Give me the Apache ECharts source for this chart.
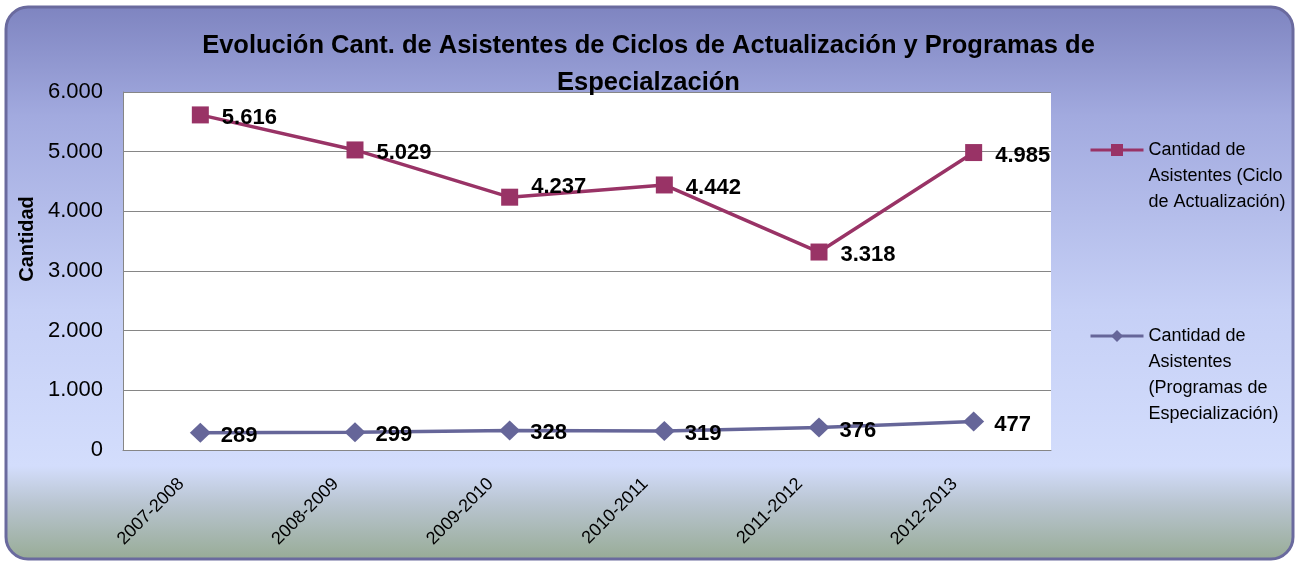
<!DOCTYPE html>
<html>
<head>
<meta charset="utf-8">
<script src="https://cdn.jsdelivr.net/npm/echarts@6/dist/echarts.min.js"></script>
<style>
html,body{margin:0;padding:0;background:#fff;}
#chart{width:1297px;height:562px;}
</style>
</head>
<body>
<div id="chart"></div>
<script>
const categories = ['2007-2008','2008-2009','2009-2010','2010-2011','2011-2012','2012-2013'];
const cicloValues = [5616, 5029, 4237, 4442, 3318, 4985];
const programasValues = [289, 299, 328, 319, 376, 477];
const yTicks = [0, 1000, 2000, 3000, 4000, 5000, 6000];
const seriesNames = ['Cantidad de\nAsistentes (Ciclo\nde Actualización)', 'Cantidad de\nAsistentes\n(Programas de\nEspecialización)'];
const titleText = 'Evolución Cant. de Asistentes de Ciclos de Actualización y Programas de\nEspecialzación';
const yAxisName = 'Cantidad';

function fmt(v){ return String(v).replace(/\B(?=(\d{3})+(?!\d))/g, '.'); }
function legendFmt(name){ const n = name.split('\n').length; return '\n'.repeat(n-1) + name; }

const chart = echarts.init(document.getElementById('chart'));
const labelFont = {fontFamily:'Liberation Sans', fontWeight:'bold', fontSize:22, color:'#000'};

const cicloData = cicloValues.map((v,i)=> i===2 ? {value:v, label:{offset:[0,-10]}} : v);

const legendCommon = {orient:'vertical', left:1089, padding:0, itemWidth:53, itemHeight:15,
  formatter:legendFmt, lineStyle:{width:3},
  textStyle:{fontFamily:'Liberation Sans', fontSize:18, lineHeight:26, color:'#000'}};

chart.setOption({
  animation:false,
  title:{
    text:titleText, left:'center', top:22,
    textStyle:{fontFamily:'Liberation Sans', fontWeight:'bold', fontSize:25.5, lineHeight:37, color:'#000'}
  },
  graphic:{elements:[{
    type:'rect', z:-100, silent:true,
    shape:{x:6, y:7, width:1287, height:552, r:22},
    style:{
      fill:{type:'linear', x:0, y:0, x2:0, y2:1, colorStops:[
        {offset:0, color:'#7e84c0'},
        {offset:0.2, color:'#a2aadf'},
        {offset:0.55, color:'#c6d0f6'},
        {offset:0.83, color:'#d3ddfc'},
        {offset:0.9, color:'#b8c4cf'},
        {offset:1, color:'#97ab95'}
      ]},
      stroke:'#6a6a9e', lineWidth:3
    }
  }]},
  grid:{left:123, right:246, top:92, bottom:112, show:true, backgroundColor:'#ffffff', borderWidth:0},
  legend:[
    Object.assign({data:[seriesNames[0]], top:85}, legendCommon),
    Object.assign({data:[seriesNames[1]], top:245}, legendCommon)
  ],
  xAxis:{
    type:'category', data:categories, boundaryGap:true,
    axisLine:{lineStyle:{color:'#868686', width:1}},
    axisTick:{show:false},
    axisLabel:{rotate:45, fontFamily:'Liberation Sans', fontSize:18, color:'#000', margin:12, interval:0, padding:[0,27,0,0]}
  },
  yAxis:{
    type:'value', min:yTicks[0], max:yTicks[yTicks.length-1], interval:yTicks[1]-yTicks[0],
    name:yAxisName, nameLocation:'middle', nameGap:84, nameRotate:90,
    nameTextStyle:{fontFamily:'Liberation Sans', fontWeight:'bold', fontSize:20, color:'#000', padding:[0,0,0,64]},
    axisLine:{show:true, lineStyle:{color:'#868686', width:1}},
    axisTick:{show:false},
    splitLine:{lineStyle:{color:'#868686', width:1}},
    axisLabel:{fontFamily:'Liberation Sans', fontSize:22, color:'#000', margin:20, formatter:fmt}
  },
  series:[
    {name:seriesNames[0], type:'line', data:cicloData, symbol:'rect', symbolSize:17,
     lineStyle:{color:'#993366', width:3.5}, itemStyle:{color:'#993366'},
     label:{show:true, position:'right', distance:13, offset:[0,3], formatter:p=>fmt(p.value), ...labelFont}},
    {name:seriesNames[1], type:'line', data:programasValues, symbol:'diamond', symbolSize:[21,20],
     lineStyle:{color:'#666699', width:3.5}, itemStyle:{color:'#666699'},
     label:{show:true, position:'right', distance:10, offset:[0,3], formatter:p=>fmt(p.value), ...labelFont}}
  ]
});
</script>
</body>
</html>
